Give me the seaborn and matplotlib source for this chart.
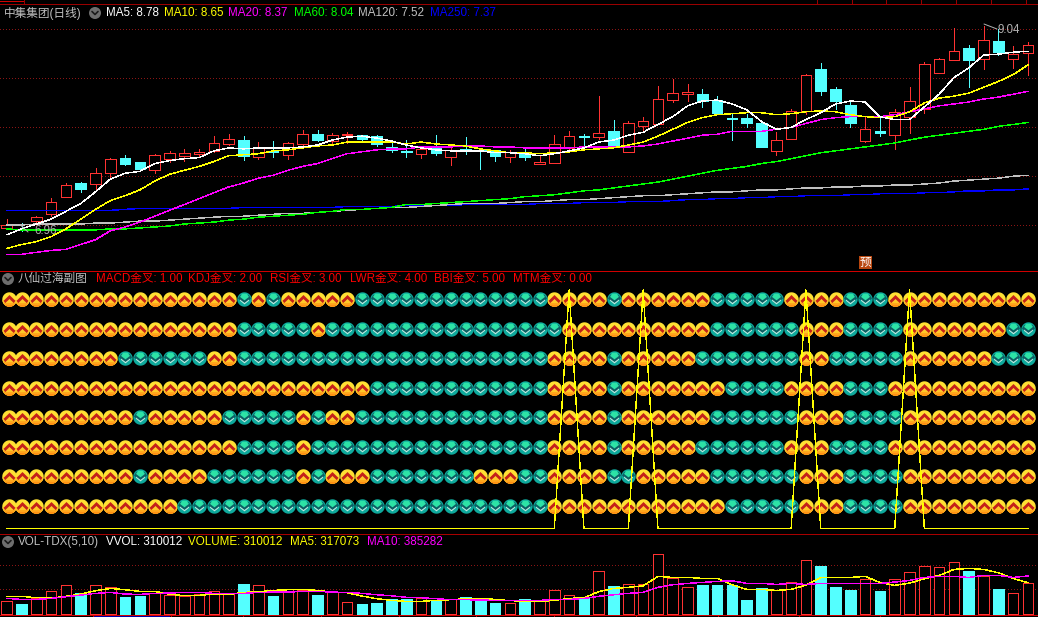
import numpy as np
import pandas as pd
import matplotlib
matplotlib.use("Agg")
import matplotlib.pyplot as plt
from matplotlib.path import Path
from matplotlib.patches import Circle, Rectangle
import seaborn as sns

# candles
opens = [6.99, 6.98, 7.06, 7.13, 7.31, 7.45, 7.44, 7.55, 7.71, 7.67,
         7.58, 7.70, 7.73, 7.75, 7.78, 7.85, 7.89, 7.72, 7.78, 7.74,
         7.85, 7.95, 7.88, 7.94, 7.94, 7.93, 7.82, 7.78, 7.75, 7.83,
         7.72, 7.80, 7.79, 7.79, 7.72, 7.76, 7.64, 7.66, 7.81, 7.93,
         7.92, 7.98, 7.77, 8.03, 8.05, 8.30, 8.36, 8.36, 8.30, 8.12,
         8.12, 8.06, 7.78, 7.90, 8.19, 8.62, 8.41, 8.25, 7.88, 7.98,
         7.94, 8.13, 8.21, 8.58, 8.71, 8.83, 8.72, 8.90, 8.72, 8.78]
closes = [7.02, 6.97, 7.10, 7.26, 7.43, 7.39, 7.55, 7.70, 7.64, 7.59,
          7.74, 7.76, 7.76, 7.77, 7.86, 7.90, 7.73, 7.81, 7.77, 7.86,
          7.95, 7.89, 7.94, 7.95, 7.90, 7.85, 7.79, 7.77, 7.80, 7.76,
          7.79, 7.78, 7.78, 7.73, 7.77, 7.72, 7.67, 7.85, 7.93, 7.92,
          7.96, 7.83, 8.07, 8.09, 8.31, 8.37, 8.38, 8.29, 8.17, 8.11,
          8.06, 7.82, 7.89, 8.19, 8.56, 8.39, 8.29, 8.06, 8.00, 7.96,
          8.18, 8.29, 8.67, 8.72, 8.80, 8.71, 8.91, 8.79, 8.77, 8.86]
highs = [7.08, 7.04, 7.11, 7.30, 7.45, 7.46, 7.60, 7.71, 7.74, 7.67,
         7.75, 7.78, 7.80, 7.80, 7.93, 7.95, 7.93, 7.87, 7.88, 7.87,
         7.99, 7.99, 7.96, 7.97, 7.94, 7.94, 7.89, 7.89, 7.83, 7.94,
         7.81, 7.92, 7.80, 7.79, 7.79, 7.82, 7.74, 7.94, 7.98, 7.95,
         8.34, 8.10, 8.09, 8.13, 8.44, 8.52, 8.46, 8.41, 8.34, 8.16,
         8.16, 8.06, 7.97, 8.21, 8.57, 8.68, 8.43, 8.30, 8.14, 8.12,
         8.21, 8.43, 8.69, 8.73, 9.04, 8.86, 9.06, 9.03, 8.85, 8.89]
lows = [6.99, 6.96, 7.03, 7.11, 7.31, 7.36, 7.39, 7.50, 7.63, 7.58,
        7.55, 7.67, 7.68, 7.72, 7.77, 7.84, 7.69, 7.70, 7.72, 7.70,
        7.82, 7.88, 7.84, 7.86, 7.87, 7.83, 7.77, 7.72, 7.71, 7.74,
        7.63, 7.75, 7.59, 7.68, 7.67, 7.69, 7.64, 7.66, 7.78, 7.82,
        7.90, 7.82, 7.77, 7.99, 8.05, 8.28, 8.29, 8.23, 8.17, 7.89,
        8.02, 7.82, 7.74, 7.90, 8.16, 8.35, 8.21, 8.02, 7.87, 7.93,
        7.80, 7.96, 8.17, 8.58, 8.71, 8.43, 8.62, 8.76, 8.63, 8.56]

# moving averages
ma5 = [6.92, 6.98, 7.03, 7.08, 7.16, 7.24, 7.36, 7.49, 7.55, 7.57,
       7.65, 7.68, 7.70, 7.71, 7.78, 7.81, 7.80, 7.81, 7.81, 7.81,
       7.82, 7.84, 7.89, 7.92, 7.93, 7.91, 7.88, 7.84, 7.81, 7.79,
       7.78, 7.78, 7.78, 7.76, 7.76, 7.75, 7.73, 7.75, 7.78, 7.81,
       7.87, 7.89, 7.94, 7.97, 8.05, 8.13, 8.24, 8.29, 8.30, 8.26,
       8.20, 8.08, 8.00, 8.02, 8.10, 8.17, 8.26, 8.29, 8.28, 8.13,
       8.10, 8.10, 8.23, 8.36, 8.53, 8.63, 8.76, 8.77, 8.79, 8.80]
ma10 = [6.78, 6.82, 6.85, 6.90, 6.98, 7.08, 7.18, 7.27, 7.32, 7.38,
        7.47, 7.54, 7.58, 7.62, 7.67, 7.73, 7.74, 7.75, 7.78, 7.79,
        7.81, 7.83, 7.84, 7.87, 7.87, 7.87, 7.87, 7.85, 7.87, 7.85,
        7.84, 7.83, 7.80, 7.78, 7.76, 7.76, 7.75, 7.76, 7.77, 7.79,
        7.80, 7.81, 7.84, 7.87, 7.93, 8.00, 8.07, 8.12, 8.15, 8.16,
        8.17, 8.17, 8.15, 8.16, 8.18, 8.19, 8.18, 8.15, 8.13, 8.12,
        8.13, 8.18, 8.27, 8.32, 8.34, 8.37, 8.43, 8.49, 8.56, 8.66]
ma20 = [6.72, 6.72, 6.74, 6.76, 6.77, 6.82, 6.87, 6.96, 7.00, 7.05,
        7.11, 7.17, 7.23, 7.29, 7.35, 7.41, 7.45, 7.50, 7.53, 7.58,
        7.62, 7.65, 7.70, 7.75, 7.77, 7.79, 7.80, 7.80, 7.82, 7.82,
        7.82, 7.83, 7.83, 7.82, 7.82, 7.81, 7.81, 7.81, 7.81, 7.82,
        7.82, 7.82, 7.82, 7.83, 7.85, 7.88, 7.91, 7.94, 7.95, 7.98,
        7.98, 7.98, 8.00, 8.02, 8.06, 8.10, 8.12, 8.13, 8.13, 8.13,
        8.15, 8.18, 8.21, 8.24, 8.26, 8.28, 8.31, 8.33, 8.36, 8.39]
ma60 = [6.98, 6.97, 6.97, 6.97, 6.97, 6.97, 6.97, 6.98, 6.98, 6.99,
        7.00, 7.01, 7.03, 7.04, 7.05, 7.07, 7.08, 7.10, 7.11, 7.12,
        7.13, 7.15, 7.16, 7.18, 7.18, 7.19, 7.20, 7.23, 7.23, 7.24,
        7.25, 7.26, 7.27, 7.28, 7.29, 7.31, 7.32, 7.33, 7.35, 7.37,
        7.38, 7.40, 7.42, 7.44, 7.46, 7.49, 7.52, 7.55, 7.58, 7.60,
        7.62, 7.65, 7.67, 7.70, 7.73, 7.76, 7.78, 7.80, 7.82, 7.84,
        7.86, 7.89, 7.92, 7.94, 7.96, 7.98, 8.00, 8.03, 8.05, 8.07]
ma120 = [7.02, 7.02, 7.03, 7.03, 7.03, 7.03, 7.04, 7.04, 7.05, 7.06,
         7.06, 7.07, 7.08, 7.09, 7.10, 7.11, 7.11, 7.12, 7.13, 7.14,
         7.14, 7.15, 7.16, 7.17, 7.18, 7.19, 7.20, 7.20, 7.21, 7.22,
         7.23, 7.24, 7.24, 7.24, 7.25, 7.26, 7.26, 7.27, 7.28, 7.28,
         7.29, 7.30, 7.31, 7.32, 7.32, 7.33, 7.34, 7.35, 7.36, 7.36,
         7.37, 7.38, 7.38, 7.39, 7.40, 7.40, 7.41, 7.41, 7.42, 7.42,
         7.43, 7.43, 7.44, 7.45, 7.47, 7.48, 7.49, 7.50, 7.52, 7.53]
ma250 = [7.17, 7.17, 7.17, 7.17, 7.17, 7.17, 7.17, 7.17, 7.18, 7.19,
         7.19, 7.19, 7.19, 7.19, 7.19, 7.19, 7.20, 7.20, 7.20, 7.20,
         7.20, 7.20, 7.20, 7.21, 7.21, 7.21, 7.21, 7.22, 7.22, 7.22,
         7.22, 7.23, 7.23, 7.23, 7.23, 7.23, 7.24, 7.24, 7.24, 7.25,
         7.25, 7.25, 7.26, 7.26, 7.26, 7.27, 7.28, 7.28, 7.29, 7.29,
         7.30, 7.30, 7.31, 7.31, 7.32, 7.32, 7.32, 7.33, 7.33, 7.34,
         7.34, 7.34, 7.35, 7.35, 7.36, 7.37, 7.37, 7.38, 7.38, 7.39]

# 八仙过海: run lengths for each row, starting with an up icon
row_runs = [
    [16, 1, 1, 1, 5, 13, 4, 1, 6, 5, 4, 3, 10],
    [16, 5, 1, 16, 10, 6, 3, 4, 7, 2],
    [8, 6, 2, 21, 4, 1, 5, 7, 2, 5, 6, 3],
    [25, 12, 4, 1, 7, 4, 4, 3, 10],
    [9, 1, 5, 5, 1, 1, 2, 13, 4, 1, 6, 6, 3, 4, 9],
    [16, 4, 1, 16, 4, 1, 5, 6, 3, 4, 10],
    [9, 1, 4, 6, 1, 1, 3, 7, 3, 2, 4, 2, 5, 6, 3, 4, 9],
    [12, 25, 12, 5, 3, 4, 9],
]
row_levels = [8, 7, 6, 5, 4, 3, 2, 1]
signal_peaks = [38, 43, 54, 61]
signal_low = 0.23
signal_high = 8.3

# volume panel
volumes = [128000, 101000, 158000, 229000, 290000, 212000, 290000, 270000, 172000, 182000,
           209000, 189000, 182000, 199000, 229000, 199000, 303000, 290000, 182000, 249000,
           243000, 192000, 222000, 118000, 101000, 111000, 152000, 152000, 158000, 135000,
           152000, 172000, 162000, 111000, 108000, 152000, 135000, 239000, 189000, 158000,
           431000, 283000, 300000, 300000, 613000, 361000, 270000, 293000, 293000, 293000,
           142000, 263000, 239000, 320000, 543000, 485000, 273000, 243000, 350000, 233000,
           350000, 421000, 482000, 472000, 522000, 435000, 388000, 253000, 209000, 310012]
vol_ma5 = [179, 179, 165, 162, 179, 202, 236, 259, 246, 229,
           229, 202, 185, 189, 202, 199, 219, 226, 239, 246,
           249, 239, 222, 216, 182, 155, 138, 128, 128, 138,
           145, 155, 158, 148, 135, 131, 128, 138, 158, 165,
           226, 259, 270, 286, 381, 371, 371, 361, 361, 297,
           249, 249, 239, 249, 293, 371, 371, 371, 381, 320,
           290, 313, 357, 391, 452, 462, 452, 418, 361, 317]
vol_ma10 = [158, 148, 148, 158, 175, 192, 209, 219, 202, 199,
            209, 212, 219, 219, 209, 209, 209, 219, 222, 222,
            229, 229, 222, 219, 209, 195, 185, 169, 165, 155,
            145, 145, 142, 138, 138, 138, 138, 148, 148, 158,
            179, 195, 209, 219, 270, 297, 310, 320, 330, 337,
            310, 310, 300, 310, 300, 310, 310, 310, 310, 310,
            324, 340, 371, 381, 381, 371, 391, 391, 371, 385]

# header texts: x pixel, text, colour
main_header = [(3.5, "中集集团(日线)", "#c0c0c0"), (105.5, "MA5: 8.78", "#ffffff"),
               (163.5, "MA10: 8.65", "#ffff00"), (228.5, "MA20: 8.37", "#ff00ff"),
               (293.5, "MA60: 8.04", "#00ff00"), (358.5, "MA120: 7.52", "#c0c0c0"),
               (430.5, "MA250: 7.37", "#0000ff")]
mid_header = [(18, "八仙过海副图", "#c0c0c0"), (96, "MACD金叉: 1.00", "#ff0000"),
              (188.5, "KDJ金叉: 2.00", "#ff0000"), (270, "RSI金叉: 3.00", "#ff0000"),
              (349.5, "LWR金叉: 4.00", "#ff0000"), (434.5, "BBI金叉: 5.00", "#ff0000"),
              (513, "MTM金叉: 0.00", "#ff0000")]
vol_header = [(18, "VOL-TDX(5,10)", "#c0c0c0"), (105.5, "VVOL: 310012", "#ffffff"),
              (188, "VOLUME: 310012", "#ffff00"), (290.5, "MA5: 317073", "#ffff00"),
              (367, "MA10: 385282", "#ff00ff")]

W, H = 1038, 617
RED = "#ff3232"
CYAN = "#54ffff"
GRID = "#8a1414"
EDGE = 0.71   # one pixel, for snapped straight lines
CURVE = 0.3   # aliased polylines come out too heavy at a full pixel
XLIM = (-0.453, 69.68)


def panel(fig, y1, y2):
    """Axes spanning the whole width, between two pixel rows."""
    ax = fig.add_axes([0, 1 - y2 / H, 1, (y2 - y1) / H], facecolor="black")
    ax.set_xlim(*XLIM)
    for spine in ax.spines.values():
        spine.set_visible(False)
    ax.tick_params(length=0, labelleft=False, labelbottom=False)
    ax.set_xticks([])
    ax.set_xlabel("")
    ax.set_ylabel("")
    return ax


def icon_marker(points):
    # the first segment only fixes the marker scale to the unit box
    verts = [(-1, -1), (1, 1), (0, 0)] + list(points) + [points[0]]
    codes = [Path.MOVETO, Path.LINETO, Path.CLOSEPOLY, Path.MOVETO]
    codes += [Path.LINETO] * (len(points) - 1) + [Path.CLOSEPOLY]
    return Path(verts, codes)


def disc_below(h):
    """Part of the unit disc below the height h."""
    start = np.arcsin(h)
    angles = np.linspace(start, -np.pi - start, 40)
    return list(zip(np.cos(angles), np.sin(angles)))


def draw_lines(ax, x, series):
    for values, colour in series:
        sns.lineplot(x=x, y=values, color=colour, linewidth=CURVE, estimator=None,
                     errorbar=None, legend=False, antialiased=False, ax=ax, zorder=5)


def set_grid(ax, levels):
    ax.set_yticks(levels)
    ax.grid(axis="y", color=GRID, linewidth=EDGE, linestyle=(0, (1, 3)), antialiased=False)
    ax.grid(axis="x", visible=False)
    ax.set_axisbelow(True)


def draw_main(ax, x):
    df = pd.DataFrame({"x": x, "open": opens, "high": highs, "low": lows, "close": closes})
    df["up"] = df["close"] >= df["open"]
    colours = [RED if up else CYAN for up in df["up"]]

    set_grid(ax, [9.03, 8.53, 8.02, 7.52, 7.02])

    ax.vlines(df["x"], df["low"], df["high"], colors=colours, linewidth=EDGE,
              antialiased=False, zorder=2)
    bottoms = df[["open", "close"]].min(axis=1)
    heights = (df["close"] - df["open"]).abs()
    ax.bar(df["x"], heights, bottom=bottoms, width=0.72, linewidth=EDGE, edgecolor=colours,
           color=["black" if up else CYAN for up in df["up"]], antialiased=False, zorder=3)

    draw_lines(ax, x, [(ma250, "#0000ff"), (ma120, "#c0c0c0"), (ma60, "#00ff00"),
                       (ma20, "#ff00ff"), (ma10, "#ffff00"), (ma5, "#ffffff")])
    ax.set_xlim(*XLIM)
    ax.set_ylim(6.554, 9.289)
    ax.tick_params(length=0, labelleft=False)
    ax.set_xlabel("")


def draw_icons(ax, x):
    rows = []
    for level, runs in zip(row_levels, row_runs):
        flags = []
        for k, n in enumerate(runs):
            flags += [k % 2 == 0] * n
        rows.append(pd.DataFrame({"x": x, "level": level, "up": flags}))
    icons = pd.concat(rows)
    # the first column sits a little to the right of its candle
    icons["x"] = icons["x"].astype(float)
    icons.loc[icons["x"] == 0, "x"] = 0.18

    up = icons[icons["up"]]
    down = icons[~icons["up"]]
    size = 108

    up_layers = [
        (disc_below(1), "#ffe034"),
        (disc_below(-0.1), "#ffc828"),
        (disc_below(-0.5), "#ffa51c"),
        (disc_below(-0.78), "#ff8c12"),
        ([(-0.82, -0.18), (0, 0.62), (0.82, -0.18), (0.6, -0.5), (0, 0.06), (-0.6, -0.5)], "#c4201a"),
    ]
    down_layers = [
        (disc_below(1), "#0ea99c"),
        ([(-0.9, 0.12), (0, -0.55), (0.9, 0.12), (0.6, 0.6), (-0.6, 0.6)], "#0c5f64"),
        ([(-0.62, 0.36), (-0.3, 0.8), (0.3, 0.8), (0.62, 0.36), (0, -0.12)], "#2de3a6"),
        ([(-0.62, -0.18), (0, -0.68), (0.62, -0.18), (0.62, 0.0), (0, -0.48), (-0.62, 0.0)], "#c4ece2"),
    ]
    for data, layers in [(up, up_layers), (down, down_layers)]:
        for points, colour in layers:
            sns.scatterplot(data=data, x="x", y="level", marker=icon_marker(points), s=size,
                            color=colour, linewidth=0, alpha=1, legend=False, ax=ax, zorder=3)

    signal = [signal_high if i in signal_peaks else signal_low for i in x]
    draw_lines(ax, x, [(signal, "#ffff00")])
    ax.set_xlim(*XLIM)
    ax.set_ylim(0.065, 8.965)
    ax.set_xlabel("")
    ax.set_ylabel("")


def draw_volume(ax, x):
    df = pd.DataFrame({"x": x, "volume": volumes, "up": np.array(closes) >= np.array(opens)})
    set_grid(ax, [492000, 250000])

    sns.barplot(data=df[df["up"]], x="x", y="volume", native_scale=True, width=0.72, color="black",
                saturation=1, edgecolor=RED, linewidth=EDGE, errorbar=None, antialiased=False,
                ax=ax, zorder=3)
    sns.barplot(data=df[~df["up"]], x="x", y="volume", native_scale=True, width=0.72, color=CYAN,
                saturation=1, edgecolor=CYAN, linewidth=EDGE, errorbar=None, antialiased=False,
                ax=ax, zorder=3)
    draw_lines(ax, x, [(np.array(vol_ma5) * 1000, "#ffff00"),
                       (np.array(vol_ma10) * 1000, "#ff00ff")])
    ax.set_xlim(*XLIM)
    ax.set_ylim(-30330, 815900)
    ax.set_xticks([])
    ax.tick_params(length=0, labelleft=False, labelbottom=False)
    ax.set_xlabel("")
    ax.set_ylabel("")


def draw_frame(fig):
    """Separators, small header buttons, the 预 badge and the high/low labels, in pixels."""
    ax = fig.add_axes([0, 0, 1, 1], facecolor="none", zorder=10)
    ax.set_xlim(0, W)
    ax.set_ylim(H, 0)
    ax.axis("off")
    line = dict(linewidth=EDGE, antialiased=False)

    ax.hlines(3.5, 0, W, color="#9a0000", **line)
    ax.hlines(0.5, 0, 23, color="#d00000", **line)
    ax.vlines([23.5, 816.5, 851.5, 885.5, 920.5, 955.5, 990.5, 1025.5], 0, 3.5, color="#9a0000", **line)
    ax.hlines(270.5, 0, W, color="#d00000", **line)
    ax.hlines(533.5, 0, W, color="#a80000", **line)
    ax.hlines(614.5, 0, W, color="#d00000", **line)
    ax.vlines([92.5, 170.5, 242.5, 320.5, 398.5, 475.5, 553.5, 635.5, 717.5, 798.5, 879.5],
              614.5, H, color="#d00000", **line)
    ax.add_patch(Rectangle((93, 615), 77, 2, color="#0000a8", linewidth=0))

    for bx, by in [(95, 13), (8, 279), (8, 542)]:
        ax.add_patch(Circle((bx, by), 6, color="#6e6e6e", linewidth=0))
        ax.plot([bx - 3, bx, bx + 3], [by - 1.5, by + 1.5, by - 1.5], color="#1a1a1a", linewidth=1.2)

    kws = dict(va="center", ha="left", fontsize=8.4)
    for y, items in [(13, main_header), (279, mid_header), (542, vol_header)]:
        for tx, label, colour in items:
            ax.text(tx, y, label, color=colour, **kws)

    # high and low markers
    ax.plot([21.5, 28], [226, 232], color="#b0b0b0", linewidth=EDGE)
    ax.text(34, 230.5, "6.96", color="#b0b0b0", **kws)
    ax.plot([984, 997], [24, 29], color="#b0b0b0", linewidth=EDGE)
    ax.text(997.5, 30, "9.04", color="#b0b0b0", **kws)

    ax.add_patch(Rectangle((859, 256), 13, 13, color="#b8460e", linewidth=0))
    ax.text(865.5, 262.5, "预", color="#ffffff", ha="center", va="center", fontsize=8.4)


def main():
    sns.set_theme(style="dark", rc={"axes.facecolor": "black", "figure.facecolor": "black"})
    plt.rcParams["font.family"] = ["Liberation Sans", "Noto Sans CJK SC", "DejaVu Sans"]
    plt.rcParams["axes.unicode_minus"] = False

    fig = plt.figure(figsize=(W / 100, H / 100), dpi=100)
    x = np.arange(len(closes))

    draw_main(panel(fig, 3.5, 270.5), x)
    draw_icons(panel(fig, 270.5, 533.5), x)
    draw_volume(panel(fig, 533.5, 617), x)
    draw_frame(fig)

    fig.savefig("out.png", dpi=100, facecolor="black")


if __name__ == "__main__":
    main()
